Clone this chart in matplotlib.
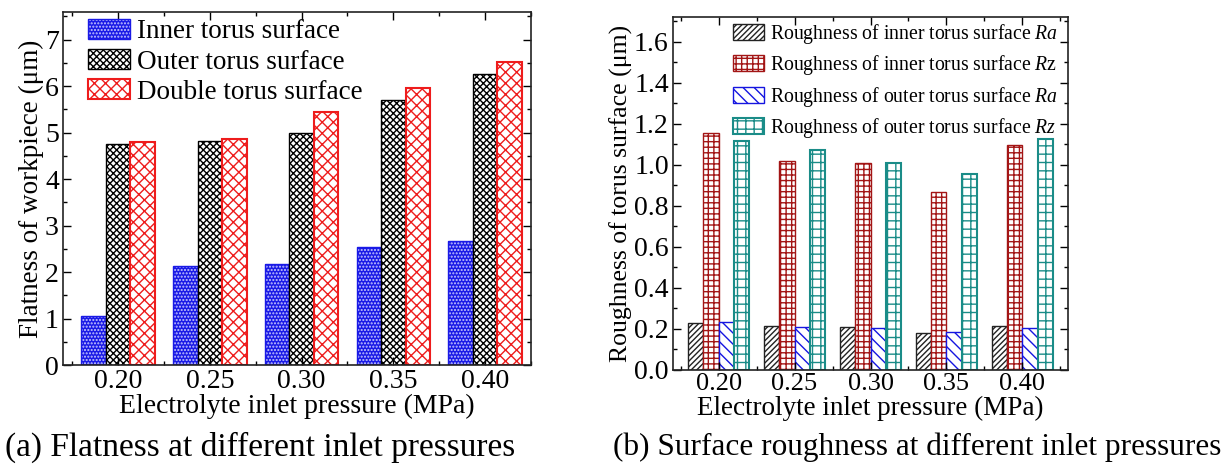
import matplotlib
matplotlib.use('Agg')
import matplotlib.pyplot as plt
from matplotlib.ticker import MultipleLocator, FormatStrFormatter
import numpy as np

plt.rcParams['font.family'] = 'Liberation Serif'
plt.rcParams['mathtext.fontset'] = 'custom'
plt.rcParams['mathtext.rm'] = 'Liberation Serif'
plt.rcParams['mathtext.it'] = 'Liberation Serif:italic'
plt.rcParams['hatch.linewidth'] = 1.0

pressures = ['0.20', '0.25', '0.30', '0.35', '0.40']

# (a) flatness, um
flat_inner = [1.06, 2.14, 2.18, 2.54, 2.67]
flat_outer = [4.75, 4.82, 4.98, 5.71, 6.27]
flat_double = [4.80, 4.86, 5.45, 5.96, 6.52]

# (b) roughness, um
ra_inner = [0.227, 0.216, 0.211, 0.182, 0.216]
rz_inner = [1.153, 1.020, 1.010, 0.868, 1.096]
ra_outer = [0.234, 0.209, 0.205, 0.187, 0.205]
rz_outer = [1.117, 1.071, 1.010, 0.956, 1.124]

fig = plt.figure(figsize=(12.29, 4.70), dpi=100)
ax1 = fig.add_axes([0.0513, 0.2234, 0.3807, 0.7517])
ax2 = fig.add_axes([0.5476, 0.2128, 0.3214, 0.7510])

x = np.arange(1, len(pressures) + 1)


def hatched_bar(ax, xs, vals, w, face, hcol, hatch, edge, lw=1.0):
    b1 = ax.bar(xs, vals, w, color=face, edgecolor=hcol, hatch=hatch, linewidth=0)
    b2 = ax.bar(xs, vals, w, fill=False, edgecolor=edge, linewidth=lw)
    return (b1, b2)


# ---- panel (a)
w = 0.267
h1 = hatched_bar(ax1, x - w, flat_inner, w, '#1a1ae6', '#c8c8ff', '.....', '#1a1ae6')
h2 = hatched_bar(ax1, x, flat_outer, w, 'white', 'black', 'xxxxx', 'black')
h3 = hatched_bar(ax1, x + w, flat_double, w, 'white', '#ee1c1c', 'xxx', '#ee1c1c', 1.5)

ax1.set_xlim(0.4, 5.5)
ax1.set_ylim(0, 7.6)
ax1.set_xticks(x)
ax1.set_xticklabels(pressures)
ax1.xaxis.set_minor_locator(MultipleLocator(0.5))
ax1.yaxis.set_major_locator(MultipleLocator(1))
ax1.yaxis.set_minor_locator(MultipleLocator(0.5))
ax1.set_ylabel('Flatness of workpiece (μm)', fontsize=19.5, labelpad=1)
ax1.set_xlabel('Electrolyte inlet pressure (MPa)', fontsize=20, labelpad=0)
ax1.legend([h1, h2, h3], ['Inner torus surface', 'Outer torus surface', 'Double torus surface'],
           loc='upper left', frameon=False, fontsize=19.5, handlelength=1.55, handleheight=0.75,
           labelspacing=0.18, handletextpad=0.25, borderaxespad=0.0, bbox_to_anchor=(0.03, 1.01))

# ---- panel (b)
w = 0.2
g1 = hatched_bar(ax2, x - 1.5 * w, ra_inner, w, 'white', '#222222', '//////', '#222222')
g2 = hatched_bar(ax2, x - 0.5 * w, rz_inner, w, 'white', '#a31515', '+++', '#a31515')
g3 = hatched_bar(ax2, x + 0.5 * w, ra_outer, w, 'white', '#1515e0', '\\\\\\', '#1515e0')
g4 = hatched_bar(ax2, x + 1.5 * w, rz_outer, w, 'white', '#1a8c88', '++', '#1a8c88', 1.5)

ax2.set_xlim(0.4, 5.6)
ax2.set_ylim(0, 1.72)
ax2.set_xticks(x)
ax2.set_xticklabels(pressures)
ax2.xaxis.set_minor_locator(MultipleLocator(0.5))
ax2.yaxis.set_major_locator(MultipleLocator(0.2))
ax2.yaxis.set_minor_locator(MultipleLocator(0.1))
ax2.yaxis.set_major_formatter(FormatStrFormatter('%.1f'))
ax2.set_ylabel('Roughness of torus surface (μm)', fontsize=18.5, labelpad=1)
ax2.set_xlabel('Electrolyte inlet pressure (MPa)', fontsize=19.5, labelpad=0.5)
ax2.legend([g1, g2, g3, g4],
           [r'Roughness of inner torus surface $\it{Ra}$',
            r'Roughness of inner torus surface $\it{R}$z',
            r'Roughness of outer torus surface $\it{Ra}$',
            r'Roughness of outer torus surface $\it{Rz}$'],
           loc='upper right', frameon=False, fontsize=14.2, handlelength=1.6, handleheight=0.85,
           labelspacing=0.38, handletextpad=0.3, borderaxespad=0.1, bbox_to_anchor=(1.0, 1.015))

for ax in (ax1, ax2):
    ax.tick_params(which='both', direction='in', top=True, right=True, labelsize=20, width=1.0)
    ax.tick_params(which='major', length=6)
    ax.tick_params(which='minor', length=3)
    ax.tick_params(axis='x', pad=3)
    ax.tick_params(axis='y', pad=3)
    for s in ax.spines.values():
        s.set_linewidth(1.2)
        s.set_color('#222222')
ax2.tick_params(axis='x', labelsize=19, pad=2)

fig.text(0.004, 0.048, '(a) Flatness at different inlet pressures', fontsize=24, va='center', ha='left')
fig.text(0.499, 0.048, '(b) Surface roughness at different inlet pressures', fontsize=22.5, va='center', ha='left')

fig.savefig('out.png', dpi=100)
